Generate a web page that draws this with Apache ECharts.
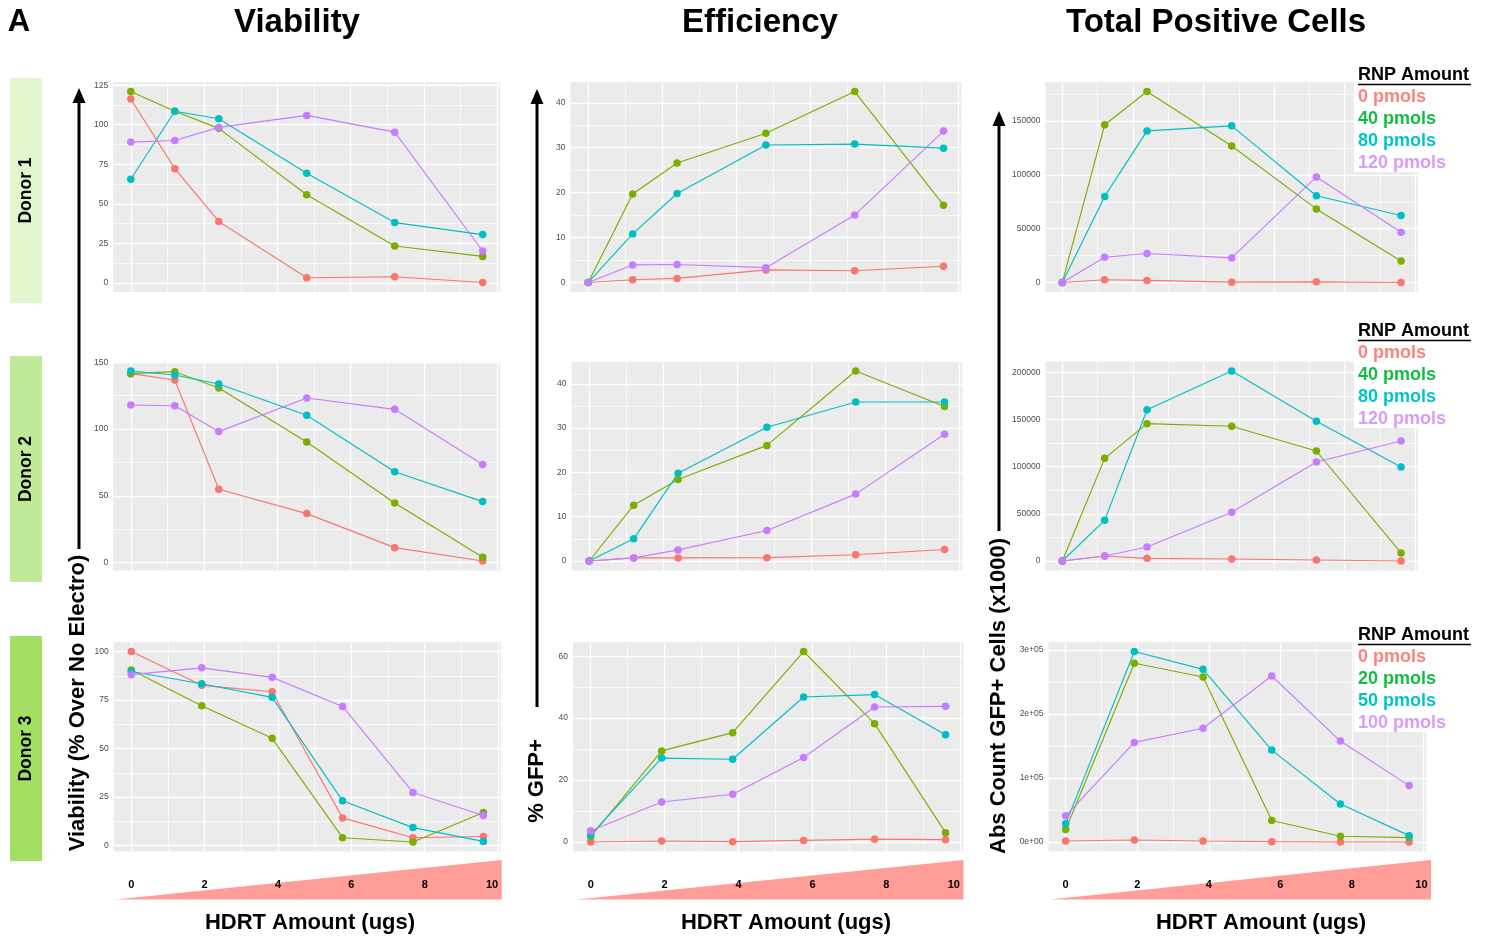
<!DOCTYPE html>
<html><head><meta charset="utf-8">
<script src="https://cdn.jsdelivr.net/npm/echarts@6/dist/echarts.min.js"></script>
<style>html,body{margin:0;padding:0;background:#fff}#c{width:1491px;height:941px}</style>
</head><body><div id="c"></div>
<script>
// ---------------- DATA ----------------
const hdrtD12 = [0, 1.2, 2.4, 4.8, 7.2, 9.6];
const hdrtD3 = [0, 1.92, 3.84, 5.76, 7.68, 9.6];
const xTicks = [0, 2, 4, 6, 8, 10];
const xTickLabels = ['0', '2', '4', '6', '8', '10'];
const rnpD12 = ['0 pmols', '40 pmols', '80 pmols', '120 pmols'];
const rnpD3 = ['0 pmols', '20 pmols', '50 pmols', '100 pmols'];
const donors = ['Donor 1', 'Donor 2', 'Donor 3'];
const columnTitles = ['Viability', 'Efficiency', 'Total Positive Cells'];

// Viability
const v1_0 = [116.3, 72.2, 38.8, 3.2, 3.8, 0.2];
const v1_40 = [121.0, 108.5, 97.7, 55.7, 23.3, 16.7];
const v1_80 = [65.5, 108.5, 103.8, 69.3, 38.1, 30.5];
const v1_120 = [89.0, 90.0, 98.3, 105.9, 95.3, 20.1];
const v2_0 = [141.5, 136.8, 54.9, 36.7, 11.2, 1.2];
const v2_40 = [141.5, 143.0, 130.8, 90.3, 44.7, 4.0];
const v2_80 = [143.5, 140.5, 133.8, 110.3, 68.1, 45.7];
const v2_120 = [118.0, 117.5, 98.1, 123.3, 114.8, 73.4];
const v3_0 = [100, 82.6, 79.3, 14.3, 4.1, 4.7];
const v3_20 = [90.5, 72.1, 55.3, 4.1, 1.9, 17.1];
const v3_50 = [89.7, 83.4, 76.4, 23.1, 9.3, 2.2];
const v3_100 = [88.1, 91.6, 86.7, 71.7, 27.4, 15.5];
// Efficiency
const e1_0 = [0, 0.6, 0.9, 2.8, 2.6, 3.6];
const e1_40 = [0, 19.7, 26.6, 33.2, 42.5, 17.2];
const e1_80 = [0, 10.8, 19.8, 30.6, 30.8, 29.9];
const e1_120 = [0, 3.9, 4.0, 3.3, 15.0, 33.7];
const e2_0 = [0, 0.7, 0.7, 0.75, 1.4, 2.6];
const e2_40 = [0, 12.6, 18.4, 26.1, 42.9, 34.9];
const e2_80 = [0, 5.0, 19.8, 30.2, 35.9, 35.9];
const e2_120 = [0, 0.7, 2.5, 6.9, 15.1, 28.6];
const e3_0 = [0, 0.3, 0.1, 0.5, 0.9, 0.75];
const e3_20 = [1.7, 29.4, 35.3, 61.5, 38.2, 3.0];
const e3_50 = [2.3, 27.1, 26.7, 46.8, 47.6, 34.6];
const e3_100 = [3.6, 12.9, 15.4, 27.3, 43.6, 43.8];
// Total positive cells
const t1_0 = [0, 2500, 1900, 300, 600, 0];
const t1_40 = [0, 146600, 177500, 126900, 68400, 20000];
const t1_80 = [0, 80000, 140900, 145600, 80600, 62200];
const t1_120 = [0, 23400, 26900, 22800, 98100, 46600];
const t2_0 = [0, 5300, 2800, 2100, 1100, 0];
const t2_40 = [0, 108800, 145600, 142800, 116600, 8500];
const t2_80 = [0, 43100, 160400, 201400, 148100, 99600];
const t2_120 = [0, 5300, 14800, 51600, 104900, 127200];
const t3_0 = [1600, 3100, 1600, 500, 0, 0];
const t3_20 = [19400, 279100, 257600, 33500, 8900, 6800];
const t3_50 = [28300, 297400, 269600, 143500, 59200, 9900];
const t3_100 = [40800, 155500, 177500, 259200, 157600, 88000];

// y tick values / labels
const yTicksV1 = [0, 25, 50, 75, 100, 125];
const yTicksV2 = [0, 50, 100, 150];
const yTicksV3 = [0, 25, 50, 75, 100];
const yTicksE12 = [0, 10, 20, 30, 40];
const yTicksE3 = [0, 20, 40, 60];
const yTicksT1 = [0, 50000, 100000, 150000];
const yTicksT2 = [0, 50000, 100000, 150000, 200000];
const yTicksT3 = [0, 100000, 200000, 300000];
const yLabelsT3 = ['0e+00', '1e+05', '2e+05', '3e+05'];

// ---------------- LAYOUT / STYLE ----------------
const FONT = '"Liberation Sans", Arial, Helvetica, sans-serif';
const COLORS = ['#F8766D', '#7CAE00', '#00BFC4', '#C77CFF'];
const LEGEND_COLORS = ['#F9857B', '#14BB45', '#00C3CA', '#D69CFF'];

const panels = [
  { x: hdrtD12, ys: [v1_0, v1_40, v1_80, v1_120], ticks: yTicksV1 },
  { x: hdrtD12, ys: [e1_0, e1_40, e1_80, e1_120], ticks: yTicksE12 },
  { x: hdrtD12, ys: [t1_0, t1_40, t1_80, t1_120], ticks: yTicksT1 },
  { x: hdrtD12, ys: [v2_0, v2_40, v2_80, v2_120], ticks: yTicksV2 },
  { x: hdrtD12, ys: [e2_0, e2_40, e2_80, e2_120], ticks: yTicksE12 },
  { x: hdrtD12, ys: [t2_0, t2_40, t2_80, t2_120], ticks: yTicksT2 },
  { x: hdrtD3, ys: [v3_0, v3_20, v3_50, v3_100], ticks: yTicksV3 },
  { x: hdrtD3, ys: [e3_0, e3_20, e3_50, e3_100], ticks: yTicksE3 },
  { x: hdrtD3, ys: [t3_0, t3_20, t3_50, t3_100], ticks: yTicksT3, labels: yLabelsT3 }
];
// [left, top, width, height]
const layout = [
  [113.2, 82, 387.1, 210], [570.5, 82, 390.8, 210], [1045.4, 82, 372.6, 210],
  [113.2, 361.5, 387.1, 209], [571.5, 361.5, 390.8, 209], [1045.4, 361.5, 372.6, 209],
  [113.7, 642, 387.3, 209.5], [573, 642, 390.3, 209.5], [1048.5, 642, 377.8, 209.5]
];

function expand(vals) {
  const mn = Math.min(...vals), mx = Math.max(...vals), r = mx - mn;
  return [mn - 0.05 * r, mx + 0.05 * r];
}

const grids = [], xAxes = [], yAxes = [], series = [];

panels.forEach((p, i) => {
  const [l, t, w, h] = layout[i];
  const xl = expand(p.x);
  const yl = expand([].concat(...p.ys));
  grids.push({ left: l, top: t, width: w, height: h, show: true, backgroundColor: '#EBEBEB', borderWidth: 0, z: 0 });
  xAxes.push({
    type: 'value', gridIndex: i, min: xl[0], max: xl[1],
    axisLine: { show: false },
    axisTick: { show: true, customValues: xTicks, length: 3, lineStyle: { color: '#333', width: 1 } },
    axisLabel: { show: false },
    splitLine: { show: false }
  });
  const labs = p.labels;
  yAxes.push({
    type: 'value', gridIndex: i, min: yl[0], max: yl[1],
    axisLine: { show: false },
    axisTick: { show: true, customValues: p.ticks, length: 3, lineStyle: { color: '#333', width: 1 } },
    axisLabel: {
      show: true, customValues: p.ticks, fontSize: 8.5, color: '#4D4D4D', fontFamily: FONT, margin: 5,
      formatter: v => labs ? labs[p.ticks.indexOf(v)] : String(v)
    },
    splitLine: { show: false }
  });
  // grid lines (ggplot style major + minor)
  const ml = [];
  const xStep = xTicks[1] - xTicks[0];
  for (let k = -1; k < xTicks.length; k++) {
    const v = xTicks[0] + (k + 0.5) * xStep;
    if (v > xl[0] && v < xl[1]) ml.push({ xAxis: v, lineStyle: { color: '#fff', width: 0.7, type: 'solid' } });
  }
  const yStep = p.ticks[1] - p.ticks[0];
  for (let k = -1; k < p.ticks.length; k++) {
    const v = p.ticks[0] + (k + 0.5) * yStep;
    if (v > yl[0] && v < yl[1]) ml.push({ yAxis: v, lineStyle: { color: '#fff', width: 0.7, type: 'solid' } });
  }
  xTicks.forEach(v => ml.push({ xAxis: v, lineStyle: { color: '#fff', width: 1.3, type: 'solid' } }));
  p.ticks.forEach(v => ml.push({ yAxis: v, lineStyle: { color: '#fff', width: 1.3, type: 'solid' } }));
  series.push({
    type: 'line', xAxisIndex: i, yAxisIndex: i, data: [], z: 1, silent: true,
    markLine: { z: 1, silent: true, symbol: ['none', 'none'], label: { show: false }, animation: false, emphasis: { disabled: true }, data: ml }
  });
  p.ys.forEach((arr, k) => {
    series.push({
      type: 'line', xAxisIndex: i, yAxisIndex: i, z: 10, silent: true,
      data: p.x.map((xv, j) => [xv, arr[j]]), showSymbol: false,
      lineStyle: { color: COLORS[k], width: 1.15 }, animation: false
    });
  });
  p.ys.forEach((arr, k) => {
    series.push({
      type: 'scatter', xAxisIndex: i, yAxisIndex: i, z: 11, silent: true,
      data: p.x.map((xv, j) => [xv, arr[j]]), symbolSize: 7.5,
      itemStyle: { color: COLORS[k], opacity: 1 }, animation: false
    });
  });
});

// bottom HDRT tick-label axes (one per column)
const bottomShift = [12, 13, 4];
[6, 7, 8].forEach((pi, c) => {
  const gi = grids.length;
  const [l, , w] = layout[pi];
  const xl = expand(panels[pi].x);
  grids.push({ left: l, top: 860, width: w, height: 39, show: false });
  xAxes.push({
    type: 'value', gridIndex: gi, min: xl[0], max: xl[1], z: 60,
    axisLine: { show: false }, axisTick: { show: false }, splitLine: { show: false },
    axisLabel: {
      show: true, customValues: xTicks, inside: true, margin: 9,
      formatter: v => {
        const idx = xTicks.indexOf(v);
        return idx === xTicks.length - 1 ? '{s|' + xTickLabels[idx] + '}' : '{n|' + xTickLabels[idx] + '}';
      },
      rich: {
        n: { fontWeight: 'bold', fontSize: 11, color: '#000', fontFamily: FONT },
        s: { fontWeight: 'bold', fontSize: 11, color: '#000', fontFamily: FONT, padding: [0, bottomShift[c], 0, 0] }
      }
    }
  });
  yAxes.push({ type: 'value', gridIndex: gi, min: 0, max: 1, show: false });
});

// ---------------- DECORATION (graphic) ----------------
const G = [];
function txt(x, y, text, size, color, opts) {
  opts = opts || {};
  G.push({
    type: 'text', x: x, y: y, rotation: opts.rot || 0, z: opts.z || 70,
    style: {
      text: text, x: 0, y: 0, fill: color,
      font: (opts.weight || 'bold') + ' ' + size + 'px ' + FONT,
      textAlign: opts.align || 'center', align: opts.align || 'center',
      textVerticalAlign: 'middle', verticalAlign: 'middle'
    }
  });
}
txt(19, 22, 'A', 31, '#000');
const titleX = [297, 760, 1216];
columnTitles.forEach((t, i) => txt(titleX[i], 23, t, 33, '#000'));

const donorBoxes = [[78, 303, '#E1F5CE'], [356, 582, '#C0EA9A'], [636, 861, '#A2DF62']];
donorBoxes.forEach((b, i) => {
  G.push({ type: 'rect', z: 5, shape: { x: 10, y: b[0], width: 32, height: b[1] - b[0] }, style: { fill: b[2] } });
  txt(26.5, (b[0] + b[1]) / 2, donors[i], 17.5, '#000', { rot: Math.PI / 2 });
});

function arrow(x, yTip, yEnd) {
  G.push({ type: 'line', z: 70, shape: { x1: x, y1: yTip + 10, x2: x, y2: yEnd }, style: { stroke: '#000', lineWidth: 3 } });
  G.push({ type: 'polygon', z: 70, shape: { points: [[x, yTip], [x - 6.5, yTip + 15], [x + 6.5, yTip + 15]] }, style: { fill: '#000' } });
}
arrow(79, 88, 549);
arrow(537, 89, 707);
arrow(999, 111, 531);
txt(78, 703, 'Viability (% Over No Electro)', 22, '#000', { rot: Math.PI / 2 });
txt(537, 781, '% GFP+', 22, '#000', { rot: Math.PI / 2 });
txt(999, 696, 'Abs Count GFP+ Cells (x1000)', 22, '#000', { rot: Math.PI / 2 });

const tri = [[115, 501.7], [577, 963.5], [1050, 1431]];
tri.forEach(t => {
  G.push({ type: 'polygon', z: 10, shape: { points: [[t[0], 899.5], [t[1], 860], [t[1], 899.5]] }, style: { fill: '#FF9D96' } });
});
const hdrtX = [310, 786, 1261];
hdrtX.forEach(x => txt(x, 923, 'HDRT Amount (ugs)', 22, '#000'));

// legends
const legendRows = [[66, 172, 75, rnpD12], [322, 428, 331, rnpD12], [626, 732, 635, rnpD3]];
legendRows.forEach(r => {
  G.push({ type: 'rect', z: 60, shape: { x: 1354, y: r[0], width: 130, height: r[1] - r[0] }, style: { fill: '#fff' } });
  txt(1358, r[2], 'RNP Amount', 18, '#000', { align: 'left' });
  G.push({ type: 'line', z: 70, shape: { x1: 1358, y1: r[2] + 9.5, x2: 1471, y2: r[2] + 9.5 }, style: { stroke: '#000', lineWidth: 1.5 } });
  r[3].forEach((lab, k) => txt(1358, r[2] + 22 * (k + 1), lab, 18, LEGEND_COLORS[k], { align: 'left' }));
});

const chart = echarts.init(document.getElementById('c'), null, { renderer: 'canvas', width: 1491, height: 941 });
chart.setOption({
  animation: false,
  backgroundColor: '#fff',
  grid: grids, xAxis: xAxes, yAxis: yAxes, series: series,
  graphic: { elements: G }
});
</script></body></html>
